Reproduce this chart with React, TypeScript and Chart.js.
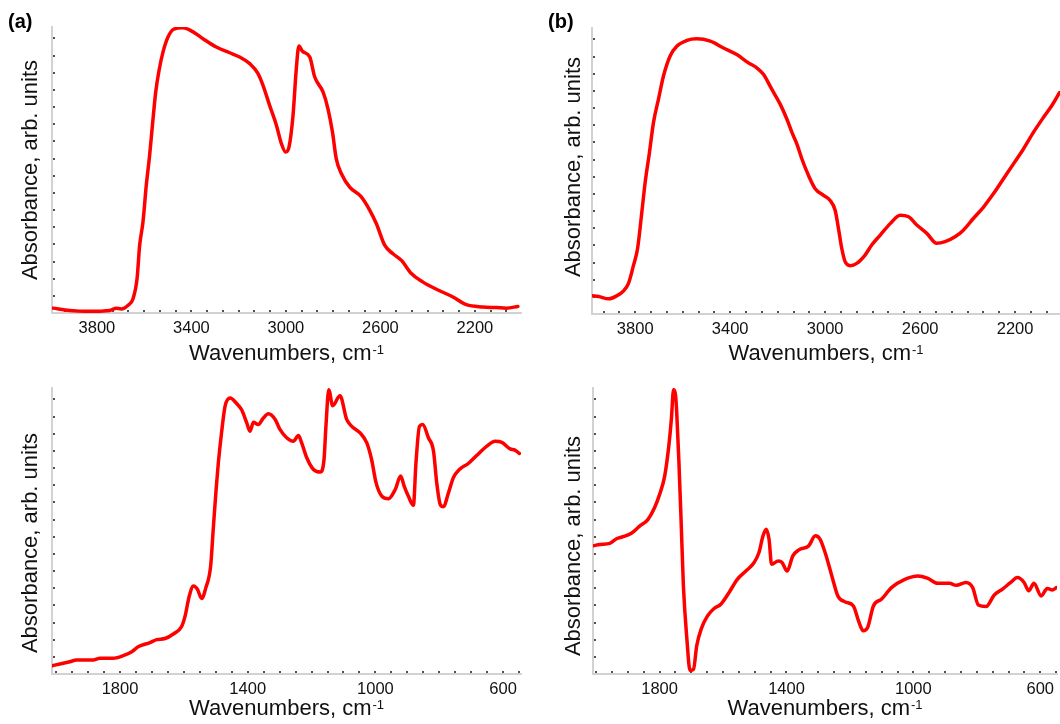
import React, { useEffect, useRef } from 'react';
import { Chart, registerables } from 'chart.js';

Chart.register(...registerables);

const FONT = '"Liberation Sans", Arial, Helvetica, sans-serif';

// ---- Panel (a): 4000-2000 cm-1, sample 1 ----
const wnA = [3986, 3915, 3831, 3746, 3718, 3697, 3668, 3647, 3630, 3619, 3605, 3591, 3577, 3565, 3551, 3537, 3520, 3499, 3475, 3436, 3393, 3351, 3295, 3238, 3196, 3153, 3118, 3097, 3069, 3040, 3019, 3001, 2987, 2970, 2956, 2945, 2930, 2899, 2878, 2843, 2822, 2803, 2787, 2765, 2730, 2681, 2645, 2617, 2582, 2547, 2511, 2469, 2420, 2363, 2293, 2236, 2166, 2109, 2067, 2018];
const absA = [1.7, 0.9, 0.6, 0.9, 1.7, 1.4, 2.7, 5, 12, 23.7, 31.8, 44.6, 55, 65.6, 77.3, 84.8, 91.3, 96.5, 99.2, 99.7, 98.3, 95.9, 93, 91, 89.5, 87.2, 83.7, 79.6, 72.6, 65.6, 59.2, 56.3, 58, 69, 85.4, 93.4, 91.5, 89.5, 82.5, 77.3, 71.4, 63.3, 54, 48.7, 44, 40.6, 35.9, 31.2, 23.7, 20.7, 18.4, 13.8, 10.8, 8.3, 5.6, 2.9, 2.1, 1.9, 1.7, 2.3];

// ---- Panel (b): 4000-2000 cm-1, sample 2 ----
const wnB = [3982, 3954, 3912, 3877, 3849, 3828, 3807, 3790, 3772, 3758, 3740, 3723, 3702, 3681, 3653, 3625, 3582, 3540, 3484, 3428, 3372, 3323, 3288, 3260, 3225, 3189, 3161, 3140, 3119, 3098, 3070, 3042, 3007, 2979, 2958, 2944, 2930, 2916, 2895, 2867, 2832, 2804, 2768, 2726, 2684, 2649, 2614, 2572, 2530, 2495, 2453, 2418, 2376, 2333, 2291, 2249, 2207, 2165, 2123, 2081, 2046, 2013];
const absB = [6.4, 6.1, 5.3, 6.4, 8.1, 10.8, 17.1, 22.9, 35.7, 46.1, 56.5, 67, 75.1, 83.2, 90.2, 93.6, 95.7, 96.2, 95.4, 93, 90.7, 87.8, 86.1, 83.8, 78.6, 73.3, 68.1, 63.5, 59.4, 54.2, 48.4, 43.8, 41.5, 39.7, 36.3, 29.9, 22.9, 18.3, 16.9, 17.7, 20.6, 24.1, 27.6, 31.6, 34.5, 34, 31.1, 28.2, 24.7, 25.3, 27, 29.3, 33.4, 37.4, 42.1, 47.3, 52.5, 57.7, 63.5, 68.7, 72.8, 77.4];

// ---- Panel (a) lower: 2000-550 cm-1, sample 1 ----
const wnC = [2013, 1988, 1957, 1936, 1884, 1863, 1821, 1790, 1763, 1743, 1706, 1685, 1659, 1633, 1607, 1596, 1583, 1570, 1558, 1544, 1531, 1516, 1508, 1499, 1492, 1482, 1471, 1455, 1434, 1419, 1403, 1393, 1382, 1367, 1351, 1335, 1314, 1299, 1278, 1257, 1241, 1231, 1215, 1194, 1173, 1161, 1155, 1146, 1134, 1111, 1090, 1074, 1048, 1027, 1012, 998, 980, 959, 938, 921, 910, 897, 881, 873, 862, 852, 834, 818, 808, 797, 787, 771, 756, 735, 709, 683, 651, 625, 604, 578, 563, 549];
const absC = [2.9, 3.5, 4.3, 4.9, 4.9, 5.5, 5.5, 6.4, 7.8, 9.5, 11, 12, 12.4, 14, 16.6, 20.3, 27.3, 30.8, 29.7, 26.4, 30.2, 37.8, 50.6, 64.5, 73.8, 84.3, 93.6, 96.5, 94.5, 92.4, 87.8, 84.9, 88, 87.2, 89.5, 91, 89, 85.5, 82.6, 81.4, 83.4, 80.8, 75.6, 71.5, 70.6, 75, 86.6, 99.4, 93.8, 97.3, 89, 86.6, 84.3, 80.8, 75, 66.9, 62.2, 61.3, 64.5, 69.2, 65.7, 62.2, 59, 73.8, 86.6, 87.2, 82.6, 77.9, 66.9, 59.3, 58.5, 63.4, 68.6, 71.7, 73.6, 76.4, 79.7, 81.4, 81, 78.7, 78.3, 77.1];

// ---- Panel (b) lower: 2000-550 cm-1, sample 2 ----
const wnD = [2010, 1988, 1957, 1936, 1915, 1889, 1863, 1837, 1816, 1800, 1784, 1771, 1763, 1756, 1750, 1746, 1739, 1732, 1725, 1714, 1704, 1693, 1683, 1669, 1649, 1628, 1607, 1581, 1555, 1528, 1502, 1487, 1474, 1464, 1455, 1447, 1426, 1414, 1398, 1380, 1361, 1330, 1309, 1294, 1278, 1257, 1238, 1215, 1189, 1173, 1158, 1144, 1126, 1100, 1069, 1027, 985, 954, 923, 886, 865, 834, 813, 795, 771, 745, 719, 693, 672, 651, 636, 620, 597, 578, 562, 549];
const absD = [44.8, 45.3, 45.7, 47.3, 48, 49.2, 51.7, 54, 58.1, 62.8, 69.2, 79.7, 89, 99.4, 97.7, 91.3, 73.8, 52.9, 30.8, 12.2, 1.2, 1.7, 9.9, 15.7, 20.3, 22.9, 24.4, 28.5, 33.1, 36, 39, 42.4, 48.3, 50.6, 47.1, 38.4, 39.5, 39, 36, 41.3, 43.4, 44.8, 48.3, 47.1, 42.4, 34.3, 27.3, 25.2, 23.8, 18.6, 15.1, 16.3, 23.8, 26.2, 30.2, 33.1, 34.3, 33.4, 31.7, 31.7, 31, 32, 30.2, 24.1, 23.6, 27.6, 29.7, 32, 33.7, 32, 29.1, 31.7, 27.3, 29.9, 29.4, 30.2];

// Tick labels
const ticksHigh = [3800, 3400, 3000, 2600, 2200];
const ticksLow = [1800, 1400, 1000, 600];

const xTitle = 'Wavenumbers, cm';
const xTitleSup = '-1';
const yTitle = 'Absorbance, arb. units';

const decoPlugin = {
  id: 'deco',
  beforeDatasetsDraw(chart: any, _args: any, o: any) {
    const { ctx, chartArea: ca, scales } = chart;
    const xs = scales.x;
    const ys = scales.y;
    ctx.save();
    ctx.fillStyle = '#505050';
    const vals: number[] = [];
    for (let v = o.dotStart; v >= xs.min; v -= o.dotStep) vals.push(v);
    for (let v = o.dotStart + o.dotStep; v <= xs.max; v += o.dotStep) vals.push(v);
    vals.forEach((v) => {
      const px = xs.getPixelForValue(v);
      ctx.fillRect(Math.round(px) - 1, ca.bottom - 3, 2, 2);
    });
    for (let v = o.yDotStep; v < ys.max; v += o.yDotStep) {
      const py = ys.getPixelForValue(v);
      ctx.fillRect(ca.left + 1, Math.round(py) - 1, 2, 2);
    }
    ctx.restore();
  },
  afterDraw(chart: any, _args: any, o: any) {
    const { ctx, chartArea: ca } = chart;
    ctx.save();
    ctx.fillStyle = '#111';
    // x title with superscript
    ctx.textBaseline = 'alphabetic';
    ctx.textAlign = 'left';
    ctx.font = `22px ${FONT}`;
    const w1 = ctx.measureText(xTitle).width;
    ctx.font = `13px ${FONT}`;
    const w2 = ctx.measureText(xTitleSup).width;
    const total = w1 + 1 + w2;
    const sx = (ca.left + ca.right) / 2 - total / 2;
    ctx.font = `22px ${FONT}`;
    ctx.fillText(xTitle, sx, o.xTitleY);
    ctx.font = `13px ${FONT}`;
    ctx.fillText(xTitleSup, sx + w1 + 1, o.xTitleY - 6.5);
    // y title
    ctx.save();
    ctx.translate(o.yTitleX, o.yTitleY);
    ctx.rotate(-Math.PI / 2);
    ctx.textAlign = 'center';
    ctx.textBaseline = 'middle';
    ctx.font = `22px ${FONT}`;
    ctx.fillText(yTitle, 0, 0);
    ctx.restore();
    // panel label
    if (o.label) {
      ctx.font = `bold 20px ${FONT}`;
      ctx.textAlign = 'left';
      ctx.textBaseline = 'alphabetic';
      ctx.fillStyle = '#000';
      ctx.fillText(o.label, 8, 28);
    }
    ctx.restore();
  },
};

type PanelCfg = {
  left: number;
  top: number;
  w: number;
  h: number;
  padTop: number;
  padRight: number;
  xH: number;
  yW: number;
  min: number;
  max: number;
  ticks: number[];
  dotStart: number;
  dotStep: number;
  wn: number[];
  abs: number[];
  yTitleX: number;
  yTitleY: number;
  xTitleY: number;
  label?: string;
};

const panels: PanelCfg[] = [
  { left: 0, top: 0, w: 540, h: 372, padTop: 27, padRight: 19, xH: 59, yW: 52, min: 2005, max: 3990, ticks: ticksHigh, dotStart: 3800, dotStep: 400 / 6, wn: wnA, abs: absA, yTitleX: 31, yTitleY: 170, xTitleY: 360, label: '(a)' },
  { left: 540, top: 0, w: 520, h: 372, padTop: 28, padRight: 0, xH: 58, yW: 52, min: 2011, max: 3982, ticks: ticksHigh, dotStart: 3800, dotStep: 400 / 6, wn: wnB, abs: absB, yTitleX: 34, yTitleY: 167, xTitleY: 360, label: '(b)' },
  { left: 0, top: 372, w: 540, h: 352, padTop: 16, padRight: 19, xH: 50, yW: 52, min: 544, max: 2013, ticks: ticksLow, dotStart: 1800, dotStep: 50, wn: wnC, abs: absC, yTitleX: 31, yTitleY: 171, xTitleY: 343 },
  { left: 540, top: 372, w: 520, h: 352, padTop: 16, padRight: 0, xH: 50, yW: 53, min: 547, max: 2010, ticks: ticksLow, dotStart: 1800, dotStep: 50, wn: wnD, abs: absD, yTitleX: 34, yTitleY: 174, xTitleY: 343 },
];

function Panel({ cfg }: { cfg: PanelCfg }) {
  const ref = useRef<HTMLCanvasElement>(null);
  useEffect(() => {
    const canvas = ref.current;
    if (!canvas) return;
    const chart = new Chart(canvas, {
      type: 'line',
      data: {
        datasets: [
          {
            data: cfg.wn.map((w, i) => ({ x: w, y: cfg.abs[i] })),
            borderColor: 'rgb(255,0,0)',
            borderWidth: 3.5,
            pointRadius: 0,
            fill: false,
            cubicInterpolationMode: 'monotone',
            borderCapStyle: 'round',
            borderJoinStyle: 'round',
          },
        ],
      },
      options: {
        animation: false,
        responsive: false,
        devicePixelRatio: 1,
        layout: { padding: { left: 0, top: cfg.padTop, right: cfg.padRight, bottom: 0 } },
        plugins: {
          legend: { display: false },
          tooltip: { enabled: false },
          deco: {
            dotStart: cfg.dotStart,
            dotStep: cfg.dotStep,
            yDotStep: 6,
            yTitleX: cfg.yTitleX,
            yTitleY: cfg.yTitleY,
            xTitleY: cfg.xTitleY,
            label: cfg.label,
          },
        } as any,
        scales: {
          x: {
            type: 'linear',
            min: cfg.min,
            max: cfg.max,
            reverse: true,
            afterBuildTicks: (s: any) => {
              s.ticks = cfg.ticks.map((v) => ({ value: v }));
            },
            afterFit: (s: any) => {
              s.height = cfg.xH;
            },
            grid: { display: false, drawTicks: false },
            border: { display: true, color: '#d2d2d2', width: 2 },
            ticks: {
              autoSkip: false,
              maxRotation: 0,
              padding: 6,
              color: '#111',
              font: { family: FONT, size: 16.5 },
              callback: (v: any) => String(v),
            },
          },
          y: {
            type: 'linear',
            min: 0,
            max: 100,
            afterFit: (s: any) => {
              s.width = cfg.yW;
            },
            grid: { display: false, drawTicks: false },
            border: { display: true, color: '#d2d2d2', width: 2 },
            ticks: { display: false },
          },
        },
      },
      plugins: [decoPlugin as any],
    });
    return () => chart.destroy();
  }, [cfg]);
  return (
    <canvas
      ref={ref}
      width={cfg.w}
      height={cfg.h}
      style={{ position: 'absolute', left: cfg.left, top: cfg.top, width: cfg.w, height: cfg.h, display: 'block' }}
    />
  );
}

export default function App() {
  return (
    <div style={{ position: 'fixed', left: 0, top: 0, width: 1060, height: 724, background: '#fff', overflow: 'hidden' }}>
      {panels.map((p, i) => (
        <Panel key={i} cfg={p} />
      ))}
    </div>
  );
}
